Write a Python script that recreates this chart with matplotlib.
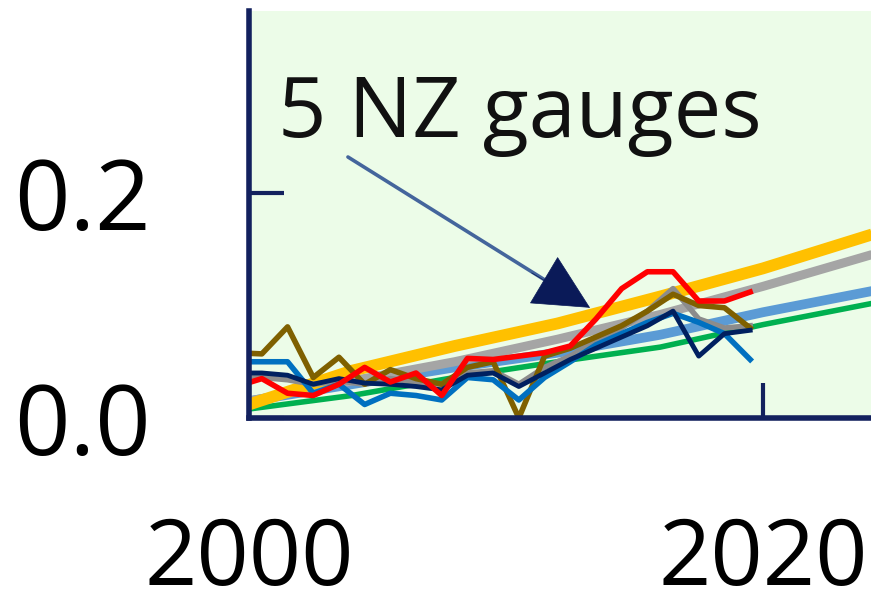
import numpy as np
import matplotlib
matplotlib.use("Agg")
import matplotlib.pyplot as plt

plt.rcParams['font.family'] = ['Open Sans', 'DejaVu Sans']

# observed gauge records (annual, mid-year)
obs_years = [1999.5, 2000.5, 2001.5, 2002.5, 2003.5, 2004.5, 2005.5, 2006.5,
             2007.5, 2008.5, 2009.5, 2010.5, 2011.5, 2012.5, 2013.5, 2014.5,
             2015.5, 2016.5, 2017.5, 2018.5, 2019.5]
gauge_gray = [0.036, 0.036, 0.034, 0.030, 0.033, 0.030, 0.035, 0.032,
              0.030, 0.040, 0.042, 0.030, 0.045, 0.055, 0.068, 0.080,
              0.095, 0.115, 0.088, 0.080, 0.082]
gauge_olive = [0.058, 0.057, 0.081, 0.036, 0.054, 0.030, 0.043, 0.035,
               0.030, 0.045, 0.050, 0.000, 0.055, 0.062, 0.072, 0.082,
               0.095, 0.110, 0.100, 0.098, 0.080]
gauge_blue = [0.050, 0.050, 0.050, 0.022, 0.030, 0.012, 0.022, 0.020,
              0.016, 0.036, 0.034, 0.016, 0.036, 0.050, 0.065, 0.075,
              0.085, 0.093, 0.085, 0.075, 0.052]
gauge_navy = [0.040, 0.040, 0.038, 0.030, 0.035, 0.031, 0.030, 0.028,
              0.025, 0.038, 0.040, 0.028, 0.040, 0.052, 0.062, 0.072,
              0.082, 0.095, 0.055, 0.075, 0.078]
gauge_red = [0.028, 0.035, 0.022, 0.020, 0.030, 0.045, 0.032, 0.040,
             0.020, 0.053, 0.052, 0.055, 0.058, 0.064, 0.088, 0.115,
             0.130, 0.130, 0.104, 0.104, 0.112]

# projections
proj_years = [2000, 2004, 2008, 2012, 2016, 2020, 2024.5]
proj_green = [0.008, 0.020, 0.036, 0.050, 0.063, 0.083, 0.103]
proj_lblue = [0.015, 0.030, 0.045, 0.058, 0.074, 0.094, 0.114]
proj_gray = [0.015, 0.033, 0.050, 0.070, 0.092, 0.117, 0.147]
proj_gold = [0.012, 0.042, 0.064, 0.084, 0.108, 0.133, 0.165]

navy = '#13215E'

fig = plt.figure(figsize=(8.71, 5.93), dpi=100)
ax = fig.add_axes([249/871, 175/593, 622/871, 407/593])
ax.set_facecolor('#ECFCE8')

ax.plot(proj_years, proj_green, color='#00B050', lw=4, solid_capstyle='butt')
ax.plot(proj_years, proj_lblue, color='#5B9BD5', lw=7, solid_capstyle='butt')
ax.plot(proj_years, proj_gray, color='#A5A5A5', lw=6.5, solid_capstyle='butt')
ax.plot(proj_years, proj_gold, color='#FFC000', lw=8.5, solid_capstyle='butt')

ax.plot(obs_years, gauge_gray, color='#8C8C8C', lw=4)
ax.plot(obs_years, gauge_olive, color='#7F6000', lw=4)
ax.plot(obs_years, gauge_blue, color='#0070C0', lw=4)
ax.plot(obs_years, gauge_navy, color='#002060', lw=3.5)
ax.plot(obs_years, gauge_red, color='#FF0000', lw=4)

ax.set_xlim(2000, 2000 + 622/25.7)
ax.set_ylim(0, 407/1125)

ax.set_xticks([2000, 2020])
ax.set_yticks([0.0, 0.2])
ax.set_yticklabels(['0.0', '0.2'])
ax.tick_params(direction='in', length=25, width=3, color=navy,
               labelsize=66)
ax.tick_params(axis='x', pad=70)
ax.tick_params(axis='y', labelsize=70, pad=71)

for side in ['top', 'right']:
    ax.spines[side].set_visible(False)
for side in ['left', 'bottom']:
    ax.spines[side].set_color(navy)
    ax.spines[side].set_linewidth(4)

# label and arrow
ax.text(2001.13, 0.25, '5 NZ gauges', fontsize=61, va='baseline', ha='left',
        color='#111111')
ax.annotate('', xy=(2011.56, 0.122), xytext=(2003.85, 0.232),
            arrowprops=dict(arrowstyle='-', color='#44659C', lw=2.6,
                            shrinkA=0, shrinkB=0))
ax.annotate('', xy=(2013.27, 0.098), xytext=(2011.0, 0.129),
            arrowprops=dict(arrowstyle='-|>,head_length=38,head_width=19',
                            mutation_scale=1, color='#0A1A58', lw=0.5,
                            shrinkA=0, shrinkB=0))

fig.savefig('out.png', dpi=100)
